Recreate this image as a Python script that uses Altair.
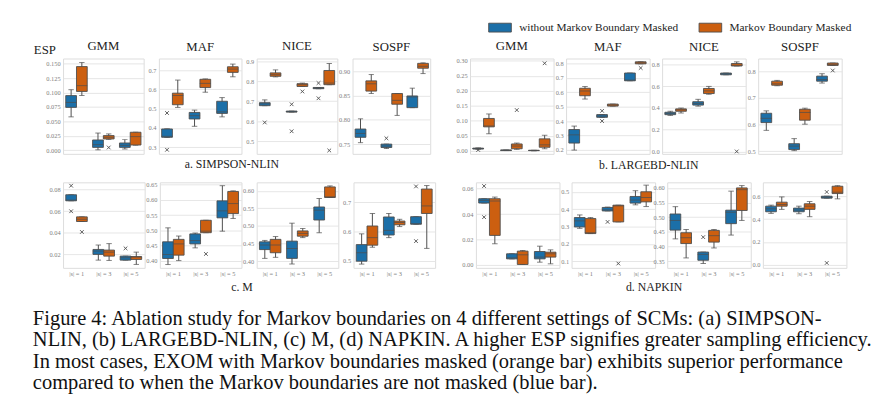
import altair as alt
import pandas as pd

SERIF = "Liberation Serif"
S_LABELS = ["|s| = 1", "|s| = 3", "|s| = 5"]
SERIES = ["without Markov Boundary Masked", "Markov Boundary Masked"]
COLORS = ["#1b6fa8", "#cc5f10"]
EDGE = "#4d4d4d"

# Box statistics per |s| : (whisker low, Q1, median, Q3, whisker high)
# Outliers: (|s| index, series index 0=blue/1=orange, value)

# ---- a. SIMPSON-NLIN ----
a_gmm_blue = [(0.058, 0.0744, 0.083, 0.0948, 0.105), (0.001, 0.0052, 0.0099, 0.018, 0.030), (0.0023, 0.0052, 0.0087, 0.0128, 0.0186)]
a_gmm_orange = [(0.095, 0.102, 0.112, 0.145, 0.152), (0.019, 0.0198, 0.0227, 0.0256, 0.0285), (0.009, 0.0093, 0.0238, 0.0314, 0.0314)]
a_gmm_out = [(1, 1, 0.005)]

a_maf_blue = [(0.350, 0.351, 0.356, 0.394, 0.395), (0.408, 0.446, 0.463, 0.480, 0.492), (0.457, 0.475, 0.483, 0.538, 0.557)]
a_maf_orange = [(0.506, 0.520, 0.568, 0.580, 0.648), (0.585, 0.609, 0.631, 0.652, 0.654), (0.665, 0.688, 0.705, 0.717, 0.731)]
a_maf_out = [(0, 0, 0.477), (0, 0, 0.286)]

a_nice_blue = [(0.677, 0.677, 0.686, 0.692, 0.706), (0.645, 0.645, 0.647, 0.650, 0.650), (0.762, 0.762, 0.765, 0.768, 0.768)]
a_nice_orange = [(0.821, 0.824, 0.832, 0.841, 0.856), (0.773, 0.773, 0.782, 0.787, 0.790), (0.782, 0.782, 0.790, 0.853, 0.888)]
a_nice_out = [(0, 0, 0.593), (1, 0, 0.684), (1, 0, 0.549), (1, 1, 0.748), (2, 0, 0.790), (2, 0, 0.714), (2, 1, 0.453)]

a_sospf_blue = [(0.753, 0.764, 0.772, 0.781, 0.802), (0.741, 0.743, 0.746, 0.750, 0.750), (0.825, 0.825, 0.847, 0.849, 0.865)]
a_sospf_orange = [(0.854, 0.859, 0.874, 0.880, 0.893), (0.809, 0.832, 0.840, 0.854, 0.854), (0.895, 0.906, 0.910, 0.916, 0.917)]
a_sospf_out = [(1, 0, 0.762)]

# ---- b. LARGEBD-NLIN ----
b_gmm_blue = [(0.005, 0.006, 0.008, 0.009, 0.010), (0.001, 0.001, 0.002, 0.003, 0.003), (0.000, 0.001, 0.001, 0.002, 0.002)]
b_gmm_orange = [(0.057, 0.080, 0.083, 0.108, 0.123), (0.005, 0.007, 0.016, 0.023, 0.026), (0.007, 0.012, 0.020, 0.040, 0.052)]
b_gmm_out = [(0, 0, 0.003), (1, 1, 0.136), (2, 1, 0.292)]

b_maf_blue = [(0.198, 0.247, 0.304, 0.341, 0.365), (0.426, 0.426, 0.435, 0.445, 0.445), (0.680, 0.680, 0.685, 0.734, 0.734)]
b_maf_orange = [(0.553, 0.576, 0.609, 0.628, 0.640), (0.504, 0.504, 0.511, 0.518, 0.518), (0.798, 0.798, 0.805, 0.812, 0.812)]
b_maf_out = [(1, 0, 0.471), (1, 0, 0.400), (2, 1, 0.769)]

b_nice_blue = [(0.332, 0.339, 0.351, 0.361, 0.370), (0.417, 0.427, 0.442, 0.458, 0.480), (0.706, 0.706, 0.715, 0.722, 0.722)]
b_nice_orange = [(0.354, 0.370, 0.383, 0.392, 0.400), (0.527, 0.533, 0.558, 0.580, 0.599), (0.787, 0.787, 0.794, 0.810, 0.825)]
b_nice_out = [(2, 1, 0.000)]

b_sospf_blue = [(0.578, 0.607, 0.623, 0.642, 0.651), (0.502, 0.506, 0.519, 0.528, 0.547), (0.755, 0.762, 0.768, 0.781, 0.790)]
b_sospf_orange = [(0.745, 0.747, 0.752, 0.762, 0.765), (0.601, 0.616, 0.645, 0.657, 0.661), (0.821, 0.821, 0.825, 0.830, 0.830)]
b_sospf_out = [(2, 1, 0.802)]

# ---- c. M ----
c_gmm_blue = [(0.0697, 0.0697, 0.0704, 0.0753, 0.0753), (0.0147, 0.0200, 0.0231, 0.0246, 0.0287), (0.0147, 0.0147, 0.0169, 0.0184, 0.0184)]
c_gmm_orange = [(0.0505, 0.0505, 0.0526, 0.0548, 0.0548), (0.0144, 0.0184, 0.0221, 0.0240, 0.0300), (0.0107, 0.0153, 0.0175, 0.0180, 0.0221)]
c_gmm_out = [(0, 0, 0.0837), (0, 0, 0.060), (0, 1, 0.0408), (2, 0, 0.0256)]

c_maf_blue = [(0.387, 0.407, 0.420, 0.462, 0.508), (0.442, 0.455, 0.466, 0.488, 0.491), (0.497, 0.541, 0.564, 0.597, 0.647)]
c_maf_orange = [(0.400, 0.418, 0.455, 0.470, 0.481), (0.492, 0.492, 0.497, 0.533, 0.533), (0.539, 0.555, 0.588, 0.628, 0.630)]
c_maf_out = [(1, 1, 0.422)]

c_nice_blue = [(0.408, 0.433, 0.446, 0.455, 0.459), (0.392, 0.408, 0.436, 0.457, 0.508), (0.481, 0.517, 0.545, 0.554, 0.578)]
c_nice_orange = [(0.411, 0.424, 0.446, 0.462, 0.470), (0.467, 0.471, 0.479, 0.486, 0.493), (0.581, 0.581, 0.583, 0.611, 0.614)]
c_nice_out = []

c_sospf_blue = [(0.488, 0.498, 0.527, 0.555, 0.592), (0.579, 0.588, 0.604, 0.650, 0.662), (0.625, 0.625, 0.627, 0.651, 0.651)]
c_sospf_orange = [(0.546, 0.553, 0.579, 0.619, 0.662), (0.617, 0.623, 0.631, 0.636, 0.642), (0.542, 0.662, 0.688, 0.746, 0.758)]
c_sospf_out = [(2, 0, 0.567), (2, 0, 0.755)]

# ---- d. NAPKIN ----
d_gmm_blue = [(0.0487, 0.0487, 0.0508, 0.0521, 0.0521), (0.0047, 0.0047, 0.0055, 0.0087, 0.0087), (0.0021, 0.0047, 0.0061, 0.0105, 0.0147)]
d_gmm_orange = [(0.0166, 0.0232, 0.0503, 0.0521, 0.0534), (0.0003, 0.0003, 0.0079, 0.0108, 0.0113), (0.0008, 0.0061, 0.0087, 0.0100, 0.0118)]
d_gmm_out = [(0, 0, 0.0621), (0, 0, 0.0376)]

d_maf_blue = [(0.290, 0.298, 0.333, 0.352, 0.367), (0.390, 0.390, 0.396, 0.410, 0.412), (0.425, 0.435, 0.452, 0.473, 0.506)]
d_maf_orange = [(0.260, 0.260, 0.265, 0.346, 0.352), (0.327, 0.327, 0.419, 0.423, 0.423), (0.415, 0.442, 0.467, 0.500, 0.538)]
d_maf_out = [(1, 0, 0.327), (1, 1, 0.088)]

d_nice_blue = [(0.426, 0.456, 0.489, 0.511, 0.536), (0.342, 0.353, 0.373, 0.381, 0.381), (0.439, 0.478, 0.517, 0.524, 0.589)]
d_nice_orange = [(0.361, 0.410, 0.430, 0.447, 0.458), (0.395, 0.415, 0.437, 0.455, 0.458), (0.489, 0.523, 0.594, 0.600, 0.608)]
d_nice_out = [(1, 0, 0.432)]

d_sospf_blue = [(0.450, 0.464, 0.490, 0.513, 0.522), (0.447, 0.464, 0.479, 0.496, 0.513), (0.583, 0.583, 0.591, 0.600, 0.600)]
d_sospf_orange = [(0.485, 0.513, 0.528, 0.548, 0.594), (0.421, 0.485, 0.513, 0.534, 0.554), (0.577, 0.623, 0.635, 0.687, 0.692)]
d_sospf_out = [(2, 0, 0.637), (2, 0, 0.017)]

PANEL_TITLES = ["GMM", "MAF", "NICE", "SOSPF"]
GROUP_TITLES = ["a. SIMPSON-NLIN", "b. LARGEBD-NLIN", "c. M", "d. NAPKIN"]
CAPTION = [
    "Figure 4: Ablation study for Markov boundaries on 4 different settings of SCMs: (a) SIMPSON-",
    "NLIN, (b) LARGEBD-NLIN, (c) M, (d) NAPKIN. A higher ESP signifies greater sampling efficiency.",
    "In most cases, EXOM with Markov boundaries masked (orange bar) exhibits superior performance",
    "compared to when the Markov boundaries are not masked (blue bar).",
]

XSHAPE = "M-1,-1L1,1M-1,1L1,-1"
RECT = "M-1.28,-0.5H1.28V0.5H-1.28Z"

LEGEND = alt.Legend(
    title=None, orient="none", legendX=435, legendY=-41, direction="horizontal",
    symbolType=RECT, symbolSize=324, symbolStrokeColor=EDGE, symbolStrokeWidth=0.9,
    symbolOpacity=1, labelFont=SERIF, labelFontSize=11.5, labelColor="#222222",
    labelOffset=10, columnPadding=19, labelLimit=400,
)


def panel(blue, orange, outliers, domain, ticks, fmt, width, height,
          title=None, show_x=False, esp=False, title_offset=5):
    rows = []
    for i, s in enumerate(S_LABELS):
        for k, st in enumerate((blue, orange)):
            lo, q1, med, q3, hi = st[i]
            rows.append({"s": s, "series": SERIES[k], "lo": lo, "q1": q1,
                         "med": med, "q3": q3, "hi": hi})
    df = pd.DataFrame(rows)

    if show_x:
        xaxis = alt.Axis(title=None, labelAngle=0, domain=False, ticks=False, grid=False,
                         labelFont=SERIF, labelFontSize=6.5, labelColor="#808080", labelPadding=3)
    else:
        xaxis = None
    X = alt.X("s:N", sort=S_LABELS, scale=alt.Scale(paddingInner=0.2, paddingOuter=0.1), axis=xaxis)
    XO = alt.XOffset("series:N", sort=SERIES, scale=alt.Scale(paddingInner=0, paddingOuter=0))

    ax_kw = dict(values=ticks, format=fmt, domain=False, ticks=False, grid=True,
                 gridColor="#e3e3e3", gridWidth=0.9, labelFont=SERIF, labelFontSize=6.5,
                 labelColor="#808080", labelPadding=3)
    if esp:
        yaxis = alt.Axis(title="ESP", titleAngle=0, titleX=-19, titleY=-5, titleAlign="center",
                         titleBaseline="alphabetic", titleFont=SERIF, titleFontSize=13,
                         titleFontWeight="normal", titleColor="#222222", **ax_kw)
    else:
        yaxis = alt.Axis(title=None, **ax_kw)
    ys = alt.Scale(domain=domain, nice=False, zero=False)

    def Y(f):
        return alt.Y(f + ":Q", scale=ys, axis=yaxis)

    box_w = width / 3 * 0.8 / 2
    base = alt.Chart(df)
    whisk = base.mark_rule(color=EDGE, strokeWidth=1).encode(x=X, xOffset=XO, y=Y("lo"), y2="hi:Q")
    cap_lo = base.mark_tick(color=EDGE, thickness=1, size=box_w / 2).encode(x=X, xOffset=XO, y=Y("lo"))
    cap_hi = base.mark_tick(color=EDGE, thickness=1, size=box_w / 2).encode(x=X, xOffset=XO, y=Y("hi"))
    box = base.mark_bar(stroke=EDGE, strokeWidth=0.9, opacity=1).encode(
        x=X, xOffset=XO, y=Y("q1"), y2="q3:Q",
        color=alt.Color("series:N", scale=alt.Scale(domain=SERIES, range=COLORS), legend=LEGEND))
    med = base.mark_tick(color=EDGE, thickness=1, size=box_w).encode(x=X, xOffset=XO, y=Y("med"))
    layers = [whisk, cap_lo, cap_hi, box, med]
    if outliers:
        odf = pd.DataFrame([{"s": S_LABELS[i], "series": SERIES[k], "v": v} for (i, k, v) in outliers])
        pts = alt.Chart(odf).mark_point(shape=XSHAPE, size=14, color=EDGE, strokeWidth=0.9,
                                        filled=False, opacity=1).encode(x=X, xOffset=XO, y=Y("v"))
        layers.append(pts)
    ch = alt.layer(*layers).properties(width=width, height=height)
    if title:
        ch = ch.properties(title=alt.TitleParams(title, font=SERIF, fontSize=13, fontWeight="normal",
                                                 color="#222222", offset=title_offset,
                                                 anchor="middle", frame="group"))
    return ch


def group(panels, caption, spacing):
    return alt.hconcat(*panels, spacing=spacing, bounds="flush",
                       title=alt.TitleParams(caption, orient="bottom", anchor="middle", font=SERIF,
                                             fontSize=12, fontWeight="normal", color="#222222",
                                             offset=5))


H1, H2 = 97, 87
A = group([
    panel(a_gmm_blue, a_gmm_orange, a_gmm_out, [-0.006, 0.159], [0, 0.025, 0.05, 0.075, 0.1, 0.125, 0.15], ".3f", 82, H1, PANEL_TITLES[0], esp=True, title_offset=-9),
    panel(a_maf_blue, a_maf_orange, a_maf_out, [0.265, 0.76], [0.3, 0.4, 0.5, 0.6, 0.7], ".1f", 84, H1, PANEL_TITLES[1]),
    panel(a_nice_blue, a_nice_orange, a_nice_out, [0.436, 0.913], [0.5, 0.6, 0.7, 0.8, 0.9], ".1f", 82, H1, PANEL_TITLES[2]),
    panel(a_sospf_blue, a_sospf_orange, a_sospf_out, [0.730, 0.926], [0.75, 0.8, 0.85, 0.9], ".2f", 79, H1, PANEL_TITLES[3]),
], GROUP_TITLES[0], 15.5)

B = group([
    panel(b_gmm_blue, b_gmm_orange, b_gmm_out, [-0.010, 0.308], [0, 0.05, 0.1, 0.15, 0.2, 0.25, 0.3], ".2f", 85, H1, PANEL_TITLES[0]),
    panel(b_maf_blue, b_maf_orange, b_maf_out, [0.172, 0.835], [0.2, 0.3, 0.4, 0.5, 0.6, 0.7, 0.8], ".1f", 85, H1, PANEL_TITLES[1]),
    panel(b_nice_blue, b_nice_orange, b_nice_out, [-0.022, 0.856], [0, 0.2, 0.4, 0.6, 0.8], ".1f", 85, H1, PANEL_TITLES[2]),
    panel(b_sospf_blue, b_sospf_orange, b_sospf_out, [0.49, 0.847], [0.5, 0.6, 0.7, 0.8], ".1f", 85, H1, PANEL_TITLES[3]),
], GROUP_TITLES[1], 12.7)

C = group([
    panel(c_gmm_blue, c_gmm_orange, c_gmm_out, [0.0075, 0.0868], [0.02, 0.04, 0.06, 0.08], ".2f", 83, H2, show_x=True),
    panel(c_maf_blue, c_maf_orange, c_maf_out, [0.376, 0.658], [0.4, 0.45, 0.5, 0.55, 0.6, 0.65], ".2f", 83, H2, show_x=True),
    panel(c_nice_blue, c_nice_orange, c_nice_out, [0.381, 0.624], [0.4, 0.45, 0.5, 0.55, 0.6], ".2f", 83, H2, show_x=True),
    panel(c_sospf_blue, c_sospf_orange, c_sospf_out, [0.475, 0.769], [0.5, 0.6, 0.7], ".1f", 83, H2, show_x=True),
], GROUP_TITLES[2], 15.5)

D = group([
    panel(d_gmm_blue, d_gmm_orange, d_gmm_out, [-0.0024, 0.065], [0, 0.02, 0.04, 0.06], ".2f", 85, H2, show_x=True),
    panel(d_maf_blue, d_maf_orange, d_maf_out, [0.063, 0.554], [0.1, 0.2, 0.3, 0.4, 0.5], ".1f", 85, H2, show_x=True),
    panel(d_nice_blue, d_nice_orange, d_nice_out, [0.327, 0.619], [0.35, 0.4, 0.45, 0.5, 0.55, 0.6], ".2f", 85, H2, show_x=True),
    panel(d_sospf_blue, d_sospf_orange, d_sospf_out, [-0.026, 0.721], [0, 0.2, 0.4, 0.6], ".1f", 85, H2, show_x=True),
], GROUP_TITLES[3], 12.3)

row1 = alt.hconcat(A, B, spacing=25)
row2 = alt.hconcat(C, D, spacing=26)

chart = alt.vconcat(
    row1, row2, spacing=9,
    title=alt.TitleParams(CAPTION, orient="bottom", anchor="start", font=SERIF, fontSize=20.8,
                          lineHeight=21.7, fontWeight="normal", color="#111111", offset=16),
).properties(
    padding={"left": 25, "top": 7, "right": 2, "bottom": 2}, background="white"
).configure_view(stroke="#dcdcdc", strokeWidth=1)

chart.save("out.html", embed_options={"renderer": "svg", "actions": False})
